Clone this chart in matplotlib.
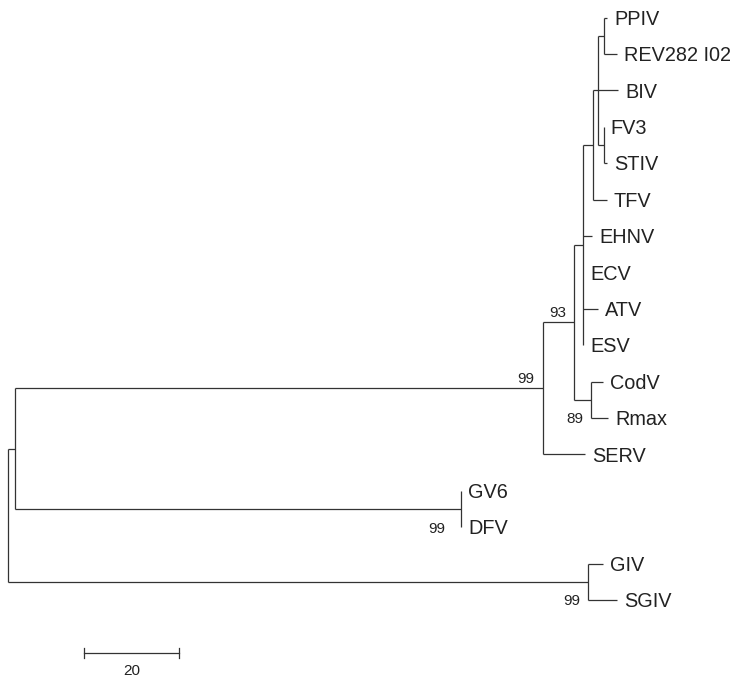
import matplotlib
matplotlib.use("Agg")
import matplotlib.pyplot as plt

# tree: node name, parent, branch length (scale units), bootstrap
node_names = ['root', 'n1', 'n_rana', 'n93', 'n_core', 'n_top', 'n_b',
              'n_pp', 'PPIV', 'REV282 I02', 'BIV', 'n_fv', 'FV3', 'STIV',
              'TFV', 'EHNV', 'ECV', 'ATV', 'ESV', 'n_cod', 'CodV', 'Rmax',
              'SERV', 'n_gv', 'GV6', 'DFV', 'n_giv', 'GIV', 'SGIV']
node_parents = [None, 'root', 'n1', 'n_rana', 'n93', 'n_core', 'n_top',
                'n_b', 'n_pp', 'n_pp', 'n_b', 'n_b', 'n_fv', 'n_fv',
                'n_top', 'n_core', 'n_core', 'n_core', 'n_core', 'n93',
                'n_cod', 'n_cod', 'n_rana', 'n1', 'n_gv', 'n_gv', 'root',
                'n_giv', 'n_giv']
branch_lengths = [0.0, 1.5, 111.2, 6.5, 1.9, 2.1, 1.1,
                  1.1, 0.8, 2.9, 4.2, 1.1, 0.0, 0.8,
                  2.9, 1.9, 0.0, 3.2, 0.0, 3.6,
                  2.5, 3.6, 8.8, 93.9, 0.0, 0.0, 122.1,
                  3.2, 6.1]
bootstrap = {'n_rana': 99, 'n93': 93, 'n_cod': 89, 'n_gv': 99, 'n_giv': 99}
scale_length = 20

# where each bootstrap value sits (style only)
boot_style = {'n_rana': ('above', -6.5), 'n93': ('above', -6.0),
              'n_cod': ('below', -5.8), 'n_gv': ('below', -11.5),
              'n_giv': ('below', -5.8)}

children = {n: [] for n in node_names}
length = dict(zip(node_names, branch_lengths))
for n, p in zip(node_names, node_parents):
    if p is not None:
        children[p].append(n)

xpos, ypos = {}, {}
leaf_count = [0]


def layout(node, x):
    xpos[node] = x
    if not children[node]:
        ypos[node] = leaf_count[0]
        leaf_count[0] += 1
        return
    for c in children[node]:
        layout(c, x + length[c])
    ys = [ypos[c] for c in children[node]]
    ypos[node] = (ys[0] + ys[-1]) / 2.0


layout('root', 0.0)

fig = plt.figure(figsize=(7.35, 6.81), dpi=100)
ax = fig.add_axes([0, 0, 1, 1])
ax.axis('off')
px = 4.75  # pixels per unit
ax.set_xlim(-8 / px, 727 / px)
ax.set_ylim((681 - 17.5) / 36.4, -17.5 / 36.4)

lc = '#333333'
lw = 0.9
for n, p in zip(node_names, node_parents):
    if p is not None:
        ax.plot([xpos[p], xpos[n]], [ypos[n], ypos[n]], color=lc, lw=lw,
                solid_capstyle='butt')
    if children[n]:
        ys = [ypos[c] for c in children[n]]
        ax.plot([xpos[n], xpos[n]], [ys[0], ys[-1]], color=lc, lw=lw,
                solid_capstyle='butt')
    else:
        ax.annotate(n, (xpos[n], ypos[n]), xytext=(5, -5.2),
                    textcoords='offset points', ha='left', va='baseline',
                    fontsize=14.3, family='Liberation Sans', color='#222222')

for n, val in bootstrap.items():
    where, dx = boot_style[n]
    if where == 'above':
        ax.annotate(str(val), (xpos[n], ypos[n]), xytext=(dx, 4),
                    textcoords='offset points', ha='right', va='baseline',
                    fontsize=11, family='Liberation Sans', color='#222222')
    else:
        last = children[n][-1]
        ax.annotate(str(val), (xpos[n], ypos[last]), xytext=(dx, -4),
                    textcoords='offset points', ha='right', va='baseline',
                    fontsize=11, family='Liberation Sans', color='#222222')

# scale bar
sx0 = (84 - 8) / px
sy = (653 - 17.5) / 36.4
ax.plot([sx0, sx0 + scale_length], [sy, sy], color=lc, lw=lw)
for sx in (sx0, sx0 + scale_length):
    ax.plot([sx, sx], [sy - 0.15, sy + 0.15], color=lc, lw=lw)
ax.text(sx0 + scale_length / 2, sy + 0.3, str(scale_length), ha='center',
        va='top', fontsize=11, family='Liberation Sans', color='#222222')

fig.savefig('out.png', dpi=100)
